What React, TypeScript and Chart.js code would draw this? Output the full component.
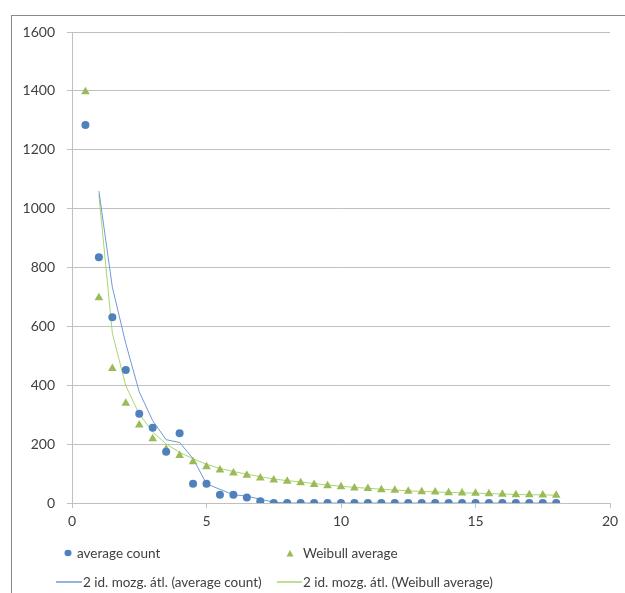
import React, { useEffect, useRef } from "react";
import { Chart, registerables } from "chart.js";

Chart.register(...registerables);

const xValues = [0.5, 1, 1.5, 2, 2.5, 3, 3.5, 4, 4.5, 5, 5.5, 6, 6.5, 7, 7.5, 8, 8.5, 9, 9.5, 10, 10.5, 11, 11.5, 12, 12.5, 13, 13.5, 14, 14.5, 15, 15.5, 16, 16.5, 17, 17.5, 18];
const averageCount = [1284, 835, 631, 452, 303, 256, 174, 237, 65, 65, 28, 28, 19, 6, 0, 0, 0, 0, 0, 0, 0, 0, 0, 0, 0, 0, 0, 0, 0, 0, 0, 0, 0, 0, 0, 0];
const weibullAverage = [1397, 697, 457, 339, 265, 218, 183, 161, 140, 123, 112, 102, 94, 85, 78, 74, 69, 63, 59, 55, 51, 49, 45, 43, 40, 38, 37, 35, 34, 33, 31, 30, 28, 28, 27, 26];
const xTicks = [0, 5, 10, 15, 20];
const yTicks = [0, 200, 400, 600, 800, 1000, 1200, 1400, 1600];

const seriesNames = ["average count", "Weibull average"];
const trendNames = ["2 id. mozg. átl. (average count)", "2 id. mozg. átl. (Weibull average)"];

const BLUE = "#4f81bd";
const GREEN = "#9bbb59";
const BLUE_LINE = "#6c9bd6";
const GREEN_LINE = "#a9d66e";
const GRID = "#c0c0c0";
const TEXT = "#404040";
const FONT = "Lato";

function movingAverage2(xs: number[], ys: number[]) {
  const out: { x: number; y: number }[] = [];
  for (let i = 1; i < ys.length; i++) {
    out.push({ x: xs[i], y: (ys[i] + ys[i - 1]) / 2 });
  }
  return out;
}

function toPoints(xs: number[], ys: number[]) {
  return xs.map((x, i) => ({ x, y: ys[i] }));
}

export default function App() {
  const ref = useRef<HTMLCanvasElement | null>(null);

  useEffect(() => {
    if (!ref.current) return;
    const chart = new Chart(ref.current, {
      type: "scatter",
      data: {
        datasets: [
          {
            label: seriesNames[0],
            data: toPoints(xValues, averageCount),
            backgroundColor: BLUE,
            borderColor: BLUE,
            pointStyle: "circle",
            pointRadius: 4,
            pointBorderWidth: 0,
            showLine: false,
            order: 0,
          },
          {
            label: seriesNames[1],
            data: toPoints(xValues, weibullAverage),
            backgroundColor: GREEN,
            borderColor: GREEN,
            pointStyle: "triangle",
            pointRadius: 5,
            pointBorderWidth: 0,
            showLine: false,
            order: 0,
          },
          {
            label: trendNames[0],
            data: movingAverage2(xValues, averageCount),
            borderColor: BLUE_LINE,
            borderWidth: 1,
            pointRadius: 0,
            showLine: true,
            tension: 0,
            order: 1,
          },
          {
            label: trendNames[1],
            data: movingAverage2(xValues, weibullAverage),
            borderColor: GREEN_LINE,
            borderWidth: 1,
            pointRadius: 0,
            showLine: true,
            tension: 0,
            order: 1,
          },
        ],
      },
      options: {
        animation: false,
        responsive: false,
        devicePixelRatio: 1,
        layout: { padding: { left: 12, right: 15, top: 32, bottom: 5 } },
        plugins: { legend: { display: false }, tooltip: { enabled: false } },
        scales: {
          x: {
            type: "linear",
            min: 0,
            max: 20,
            afterFit: (s: any) => {
              s.height = 32;
            },
            afterBuildTicks: (s: any) => {
              s.ticks = xTicks.map((v) => ({ value: v }));
            },
            ticks: {
              color: TEXT,
              font: { family: FONT, size: 14 },
              padding: 5,
              maxRotation: 0,
              callback: (v: any) => String(v),
            },
            grid: { drawOnChartArea: false, color: GRID, tickLength: 5 },
            border: { color: GRID, width: 1 },
          },
          y: {
            type: "linear",
            min: 0,
            max: 1600,
            afterFit: (s: any) => {
              s.width = 60;
            },
            afterBuildTicks: (s: any) => {
              s.ticks = yTicks.map((v) => ({ value: v }));
            },
            ticks: {
              color: TEXT,
              font: { family: FONT, size: 14 },
              padding: 12,
              callback: (v: any) => String(v),
            },
            grid: { color: GRID, tickLength: 5 },
            border: { color: GRID, width: 1 },
          },
        },
      },
    });
    return () => chart.destroy();
  }, []);

  const textStyle: React.CSSProperties = {
    position: "absolute",
    fontFamily: FONT,
    fontSize: 13.5,
    color: TEXT,
    whiteSpace: "nowrap",
    lineHeight: "16px",
  };

  return (
    <div style={{ position: "absolute", left: 0, top: 0, width: 625, height: 593, background: "#fff", overflow: "hidden" }}>
      <div
        style={{
          position: "absolute",
          left: 11,
          top: 15,
          width: 640,
          height: 600,
          borderLeft: "1.5px solid #8a8a8a",
          borderTop: "1.5px solid #8a8a8a",
        }}
      />
      <canvas ref={ref} width={625} height={540} style={{ position: "absolute", left: 0, top: 0, width: 625, height: 540 }} />
      <svg width={625} height={593} style={{ position: "absolute", left: 0, top: 0, pointerEvents: "none" }}>
        <ellipse cx={68} cy={553} rx={3.5} ry={3.2} fill={BLUE} />
        <polygon points="286.5,556.5 293.5,556.5 290,550" fill={GREEN} />
        <line x1={56} y1={582} x2={82} y2={582} stroke={BLUE_LINE} strokeWidth={1.5} />
        <line x1={277} y1={582} x2={302} y2={582} stroke={GREEN_LINE} strokeWidth={1.5} />
      </svg>
      <div style={{ ...textStyle, left: 77, top: 545 }}>{seriesNames[0]}</div>
      <div style={{ ...textStyle, left: 303, top: 545 }}>{seriesNames[1]}</div>
      <div style={{ ...textStyle, left: 83, top: 574 }}>{trendNames[0]}</div>
      <div style={{ ...textStyle, left: 303, top: 574 }}>{trendNames[1]}</div>
    </div>
  );
}
